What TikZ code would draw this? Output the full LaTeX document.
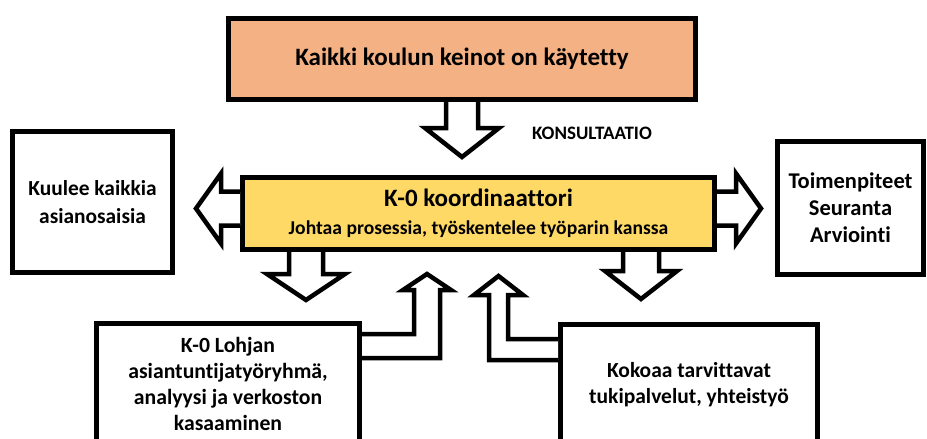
\documentclass[tikz,border=0pt]{standalone}
\usepackage{fontspec}
\setmainfont{Carlito}[Ligatures=NoCommon]
\definecolor{boxorange}{HTML}{F4B183}
\definecolor{boxyellow}{HTML}{FFD966}
\tikzset{
  box/.style={draw, line width=5pt, align=center, font=\bfseries},
  barrow/.style={draw, line width=4.5pt, fill=white, line join=miter}
}
\begin{document}
\begin{tikzpicture}[x=1pt,y=-1pt]
\clip (0,0) rectangle (927,439);
\node[box, fill=boxorange, minimum width=467pt, minimum height=81pt, font=\bfseries\fontsize{25}{30}\selectfont] (top) at (462,59) {Kaikki koulun keinot on käytetty};
\node[box, fill=boxyellow, minimum width=472pt, minimum height=72pt, font=\bfseries\fontsize{19.6}{28}\selectfont] (coord) at (478.5,213.5) {{\fontsize{25}{28}\selectfont K-0 koordinaattori}\\{Johtaa prosessia, työskentelee työparin kanssa}};
\node[box, minimum width=160pt, minimum height=141pt, font=\bfseries\fontsize{21.4}{28}\selectfont] (hear) at (92.5,202) {Kuulee kaikkia\\asianosaisia};
\node[box, minimum width=146pt, minimum height=133pt, font=\bfseries\fontsize{22.5}{27}\selectfont] (actions) at (850.5,208) {Toimenpiteet\\Seuranta\\Arviointi};
\node[box, minimum width=263pt, minimum height=121pt, font=\bfseries\fontsize{21.7}{26}\selectfont] (group) at (228,384) {K-0 Lohjan\\asiantuntijatyöryhmä,\\analyysi ja verkoston\\kasaaminen};
\node[box, minimum width=257pt, minimum height=121pt, font=\bfseries\fontsize{21.5}{26}\selectfont] (support) at (689,385) {Kokoaa tarvittavat\\tukipalvelut, yhteistyö};
\node[font=\bfseries\fontsize{19}{22}\selectfont] (konsult) at (592,133) {KONSULTAATIO};

% block arrows
\path[barrow, shift={(top.south)}] (-16,0) -- (-16,26) -- (-37,26) -- (0,55) -- (37,26) -- (16,26) -- (16,0);
\path[barrow, shift={(coord.west)}] (0,-22) -- (-19,-22) -- (-19,-40) -- (-44,-5) -- (-19,30) -- (-19,12) -- (0,12);
\path[barrow, shift={(coord.east)}] (0,-22) -- (19,-22) -- (19,-40) -- (44,-5) -- (19,30) -- (19,12) -- (0,12);
\path[barrow, shift={(coord.south west)}] (49,0) -- (49,22) -- (27,22) -- (66,48) -- (105,22) -- (83,22) -- (83,0);
\path[barrow, shift={(coord.south east)}] (-94,0) -- (-94,19) -- (-112,19) -- (-76,47) -- (-40,19) -- (-58,19) -- (-58,0);
\path[barrow, shift={(group.north east)}] (0,13) -- (52,13) -- (52,-31) -- (41,-31) -- (65,-47) -- (89,-31) -- (78,-31) -- (78,37) -- (0,37);
\path[barrow, shift={(support.north west)}] (0,17) -- (-50,17) -- (-50,-27) -- (-35,-27) -- (-59.5,-46) -- (-84,-27) -- (-69,-27) -- (-69,38) -- (0,38);
\end{tikzpicture}
\end{document}
